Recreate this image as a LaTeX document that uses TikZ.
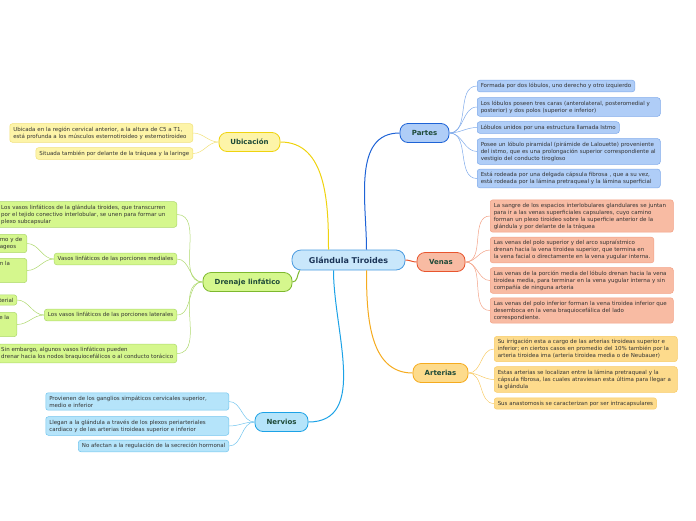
\documentclass[tikz,border=0pt]{standalone}
\usepackage{fontspec}
\setmainfont{DejaVu Sans}

\definecolor{raizFill}{HTML}{C9E7FB}
\definecolor{raizLine}{HTML}{4A9BE0}
\definecolor{raizText}{HTML}{1C3558}
\definecolor{temaText}{HTML}{1E4A38}
\definecolor{parLine}{HTML}{1E63D6}
\definecolor{parFill}{HTML}{AFCDF7}
\definecolor{parSoft}{HTML}{7FAAEA}
\definecolor{venLine}{HTML}{E8552E}
\definecolor{venFill}{HTML}{F8BBA3}
\definecolor{venSoft}{HTML}{F3A185}
\definecolor{artLine}{HTML}{F5AB1E}
\definecolor{artFill}{HTML}{FDDB8C}
\definecolor{artSoft}{HTML}{F8CB66}
\definecolor{ubiLine}{HTML}{EFD30F}
\definecolor{ubiFill}{HTML}{FDF4A8}
\definecolor{ubiSoft}{HTML}{F1E17A}
\definecolor{druLine}{HTML}{7DB82E}
\definecolor{druFill}{HTML}{D5F78D}
\definecolor{druSoft}{HTML}{ADD86C}
\definecolor{nerLine}{HTML}{1CA2E6}
\definecolor{nerFill}{HTML}{B5E4FA}
\definecolor{nerSoft}{HTML}{72C5EE}

\begin{document}
\begin{tikzpicture}[x=1pt,y=-1pt,
    tema/.style={draw, line width=0.8pt, rounded corners=8pt, minimum height=19pt,
      inner xsep=6pt, font=\fontsize{7}{8}\selectfont\bfseries, text=temaText},
    hoja/.style={draw, line width=0.5pt, rounded corners=2.5pt, inner xsep=3.5pt,
      inner ysep=3pt, align=left, font=\fontsize{5.5}{7}\selectfont, text=black!80},
    ancha/.style={text width=176pt},
    corta/.style={inner xsep=3pt},
    rama/.style={line width=1pt},
    ramita/.style={line width=0.5pt}]
  \useasboundingbox (0,0) rectangle (696,520);
  \clip (0,0) rectangle (696,520);

  % centro
  \node[draw=raizLine, fill=raizFill, line width=0.8pt, rounded corners=9pt,
    minimum width=113pt, minimum height=20pt,
    font=\fontsize{8}{9}\selectfont\bfseries, text=raizText] (glandula) at (348.5,260) {Glándula Tiroides};

  % temas
  \node[tema, draw=parLine, fill=parFill, minimum width=49pt] (partes) at (424.5,133) {Partes};
  \node[tema, draw=venLine, fill=venFill, minimum width=48pt] (venas) at (441,262) {Venas};
  \node[tema, draw=artLine, fill=artFill, minimum width=55pt] (arterias) at (440.5,373) {Arterias};
  \node[tema, draw=ubiLine, fill=ubiFill, minimum width=61pt] (ubicacion) at (249.5,142) {Ubicación};
  \node[tema, draw=druLine, fill=druFill, minimum width=89pt] (drenaje) at (247.5,282) {Drenaje linfático};
  \node[tema, draw=nerLine, fill=nerFill, minimum width=53pt] (nervios) at (281.5,422) {Nervios};

  \draw[rama, parLine] ([xshift=18pt]glandula.north) to[out=90,in=180] (partes.west);
  \draw[rama, venLine] (glandula.east) to[out=0,in=180] (venas.west);
  \draw[rama, artLine] ([xshift=18pt]glandula.south) to[out=-90,in=180] (arterias.west);
  \draw[rama, ubiLine] ([xshift=-20pt]glandula.north) to[out=90,in=0] (ubicacion.east);
  \draw[rama, druLine] ([xshift=8pt]glandula.south west) to[out=-120,in=0] (drenaje.east);
  \draw[rama, nerLine] ([xshift=-15pt]glandula.south) to[out=-90,in=0] (nervios.east);

  % Partes
  \node[hoja, draw=parSoft, fill=parFill, anchor=west] (p1) at (477,86) {Formada por dos lóbulos, uno derecho y otro izquierdo};
  \node[hoja, ancha, draw=parSoft, fill=parFill, anchor=west] (p2) at (477,107) {Los lóbulos poseen tres caras (anterolateral, posteromedial y\\posterior) y dos polos (superior e inferior)};
  \node[hoja, draw=parSoft, fill=parFill, anchor=west] (p3) at (477,127.5) {Lóbulos unidos por una estructura llamada Istmo};
  \node[hoja, ancha, draw=parSoft, fill=parFill, anchor=west] (p4) at (477,151.5) {Posee un lóbulo piramidal (pirámide de Lalouette) proveniente\\del istmo, que es una prolongación superior correspondiente al\\vestigio del conducto tirogloso};
  \node[hoja, ancha, draw=parSoft, fill=parFill, anchor=west] (p5) at (477,178.5) {Está rodeada por una delgada cápsula fibrosa , que a su vez,\\está rodeada por la lámina pretraqueal y la lámina superficial};
  \foreach \h in {p1,p2,p3,p4,p5}{\draw[ramita, parSoft] (partes.east) to[out=0,in=180] (\h.west);}

  % Venas
  \node[hoja, ancha, draw=venSoft, fill=venFill, anchor=west] (v1) at (490,216) {La sangre de los espacios interlobulares glandulares se juntan\\para ir a las venas superficiales capsulares, cuyo camino\\forman un plexo tiroideo sobre la superficie anterior de la\\glándula y por delante de la tráquea};
  \node[hoja, draw=venSoft, fill=venFill, anchor=west] (v2) at (490,250) {Las venas del polo superior y del arco supraístmico\\drenan hacia la vena tiroidea superior, que termina en\\la vena facial o directamente en la vena yugular interna.};
  \node[hoja, ancha, draw=venSoft, fill=venFill, anchor=west] (v3) at (490,280.5) {Las venas de la porción media del lóbulo drenan hacia la vena\\tiroidea media, para terminar en la vena yugular interna y sin\\compañía de ninguna arteria};
  \node[hoja, ancha, draw=venSoft, fill=venFill, anchor=west] (v4) at (490,310.5) {Las venas del polo inferior forman la vena tiroidea inferior que\\desemboca en la vena braquiocefálica del lado\\correspondiente.};
  \foreach \h in {v1,v2,v3,v4}{\draw[ramita, venSoft] (venas.east) to[out=0,in=180] (\h.west);}

  % Arterias
  \node[hoja, ancha, draw=artSoft, fill=artFill, anchor=west] (a1) at (494,349) {Su irrigación esta a cargo de las arterias tiroideas superior e\\inferior; en ciertos casos en promedio del 10\% también por la\\arteria tiroidea ima (arteria tiroidea media o de Neubauer)};
  \node[hoja, ancha, draw=artSoft, fill=artFill, anchor=west] (a2) at (494,379.5) {Estas arterias se localizan entre la lámina pretraqueal y la\\cápsula fibrosa, las cuales atraviesan esta última para llegar a\\la glándula};
  \node[hoja, draw=artSoft, fill=artFill, anchor=west] (a3) at (494,403.5) {Sus anastomosis se caracterizan por ser intracapsulares};
  \foreach \h in {a1,a2,a3}{\draw[ramita, artSoft] (arterias.east) to[out=0,in=180] (\h.west);}

  % Ubicacion
  \node[hoja, ancha, draw=ubiSoft, fill=ubiFill, anchor=east] (u1) at (193,133) {Ubicada en la región cervical anterior, a la altura de C5 a T1,\\está profunda a los músculos esternotiroideo y esternotiroideo};
  \node[hoja, draw=ubiSoft, fill=ubiFill, anchor=east] (u2) at (193,153.5) {Situada también por delante de la tráquea y la laringe};
  \foreach \h in {u1,u2}{\draw[ramita, ubiSoft] (ubicacion.west) to[out=180,in=0] (\h.east);}

  % Drenaje linfatico
  \node[hoja, text width=172pt, draw=druSoft, fill=druFill, anchor=east] (d1) at (177,214.5) {Los vasos linfáticos de la glándula tiroides, que transcurren\\por el tejido conectivo interlobular, se unen para formar un\\plexo subcapsular};
  \node[hoja, draw=druSoft, fill=druFill, anchor=east] (d2) at (177,259) {Vasos linfáticos de las porciones mediales};
  \node[hoja, draw=druSoft, fill=druFill, anchor=east] (d3) at (177,315) {Los vasos linfáticos de las porciones laterales};
  \node[hoja, draw=druSoft, fill=druFill, anchor=east] (d4) at (177,353.5) {Sin embargo, algunos vasos linfáticos pueden\\drenar hacia los nodos braquiocefálicos o al conducto torácico};
  \foreach \h in {d1,d2,d3,d4}{\draw[ramita, druSoft] (drenaje.west) to[out=180,in=0] (\h.east);}

  \node[hoja, corta, text width=24pt, draw=druSoft, fill=druFill, anchor=east] (d21) at (27,243.5) {mo y de\\ageos};
  \node[hoja, corta, text width=24pt, draw=druSoft, fill=druFill, anchor=east] (d22) at (27,270.5) {n la\\~\\~};
  \foreach \h in {d21,d22}{\draw[ramita, druSoft] (d2.west) to[out=180,in=0] (\h.east);}

  \node[hoja, corta, text width=14.5pt, draw=druSoft, fill=druFill, anchor=east] (d31) at (17,300) {terial};
  \node[hoja, corta, text width=14.5pt, draw=druSoft, fill=druFill, anchor=east] (d32) at (17,324.5) {e la\\~\\~};
  \foreach \h in {d31,d32}{\draw[ramita, druSoft] (d3.west) to[out=180,in=0] (\h.east);}

  % Nervios
  \node[hoja, ancha, draw=nerSoft, fill=nerFill, anchor=east] (n1) at (229,401.5) {Provienen de los ganglios simpáticos cervicales superior,\\medio e inferior};
  \node[hoja, ancha, draw=nerSoft, fill=nerFill, anchor=east] (n2) at (229,426) {Llegan a la glándula a través de los plexos periarteriales\\cardiaco y de las arterias tiroideas superior e inferior};
  \node[hoja, draw=nerSoft, fill=nerFill, anchor=east] (n3) at (229,446) {No afectan a la regulación de la secreción hormonal};
  \foreach \h in {n1,n2,n3}{\draw[ramita, nerSoft] (nervios.west) to[out=180,in=0] (\h.east);}
\end{tikzpicture}
\end{document}
